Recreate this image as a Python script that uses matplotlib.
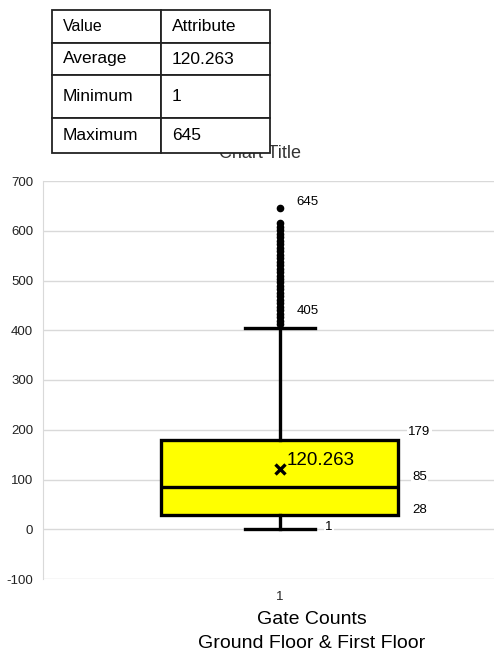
import matplotlib.pyplot as plt

plt.rcParams['font.family'] = ['Liberation Sans', 'DejaVu Sans']
plt.rcParams['axes.unicode_minus'] = False

# gate count summary (ground floor & first floor)
q1 = 28
median = 85
q3 = 179
whisker_low = 1
whisker_high = 405
mean = 120.263
outliers = [412, 419, 426, 433, 440, 447, 454, 461, 468, 475, 482, 489, 496,
            503, 510, 517, 524, 531, 538, 545, 552, 559, 566, 573, 580, 587,
            594, 601, 608, 615, 645]

table_rows = [["Value", "Attribute"],
              ["Average", "120.263"],
              ["Minimum", "1"],
              ["Maximum", "645"]]

fig = plt.figure(figsize=(4.94, 6.54), dpi=100)
ax = fig.add_axes([43/494, 75/654, 451/494, 398/654])

stats = [dict(med=median, q1=q1, q3=q3, whislo=whisker_low, whishi=whisker_high,
              mean=mean, fliers=outliers, label="1")]
ax.bxp(stats, positions=[1], widths=0.5, showmeans=True, patch_artist=True,
       boxprops=dict(facecolor='#ffff00', edgecolor='black', linewidth=2.4),
       medianprops=dict(color='black', linewidth=2.4),
       whiskerprops=dict(color='black', linewidth=2.4),
       capprops=dict(color='black', linewidth=2.4),
       capwidths=0.146,
       meanprops=dict(marker='x', markeredgecolor='black', markersize=7, markeredgewidth=2.4),
       flierprops=dict(marker='o', markerfacecolor='black', markeredgecolor='black', markersize=4.5))

ax.set_xlim(0.5, 1.4515)
ax.set_ylim(-100, 700)
ax.set_yticks(range(-100, 701, 100))
ax.grid(axis='y', color='#d9d9d9', linewidth=1)
ax.set_axisbelow(True)
for s in ['top', 'right', 'bottom']:
    ax.spines[s].set_visible(False)
ax.spines['left'].set_color('#d9d9d9')
ax.tick_params(axis='both', length=0, labelsize=9.5, colors='#222222')
ax.tick_params(axis='y', pad=7)
ax.tick_params(axis='x', pad=9)

# value labels next to the box parts
bb = dict(facecolor='white', edgecolor='none', pad=1)
labels = [(max(outliers), 16, 6), (whisker_high, 17, 17), (q3, 128, 8),
          (median, 132, 10), (q1, 132, 5), (whisker_low, 45, 2)]
for val, dx, dy in labels:
    ax.annotate(str(val), (1, val), xytext=(dx, dy), textcoords='offset pixels',
                ha='left', va='center', fontsize=9.5, bbox=bb)
ax.annotate(str(mean), (1, mean), xytext=(7, 9), textcoords='offset pixels',
            ha='left', va='center', fontsize=13.5)

fig.text(311.5/494, 1 - 620/654, "Gate Counts", ha='center', va='center', fontsize=14)
fig.text(311.5/494, 1 - 643/654, "Ground Floor & First Floor", ha='center', va='center', fontsize=14)
fig.text(260/494, 1 - 154/654, "Chart Title", ha='center', va='center', fontsize=13, color='#333333')

# summary table in the top left corner
tax = fig.add_axes([52/494, 1 - 153/654, 218/494, 143/654])
tax.axis('off')
tbl = tax.table(cellText=table_rows, cellLoc='left', bbox=[0, 0, 1, 1])
tbl.auto_set_font_size(False)
row_h = [33, 32, 43, 35]
for (r, c), cell in tbl.get_celld().items():
    cell.set_height(row_h[r])
    cell.set_width(109)
    cell.set_linewidth(1.3)
    cell.set_edgecolor('#222222')
    cell.PAD = 0.1
    cell.get_text().set_fontsize(11.5 if (r, c) == (0, 0) else 12.5)
tax.set_zorder(5)

plt.savefig("out.png", dpi=100)
